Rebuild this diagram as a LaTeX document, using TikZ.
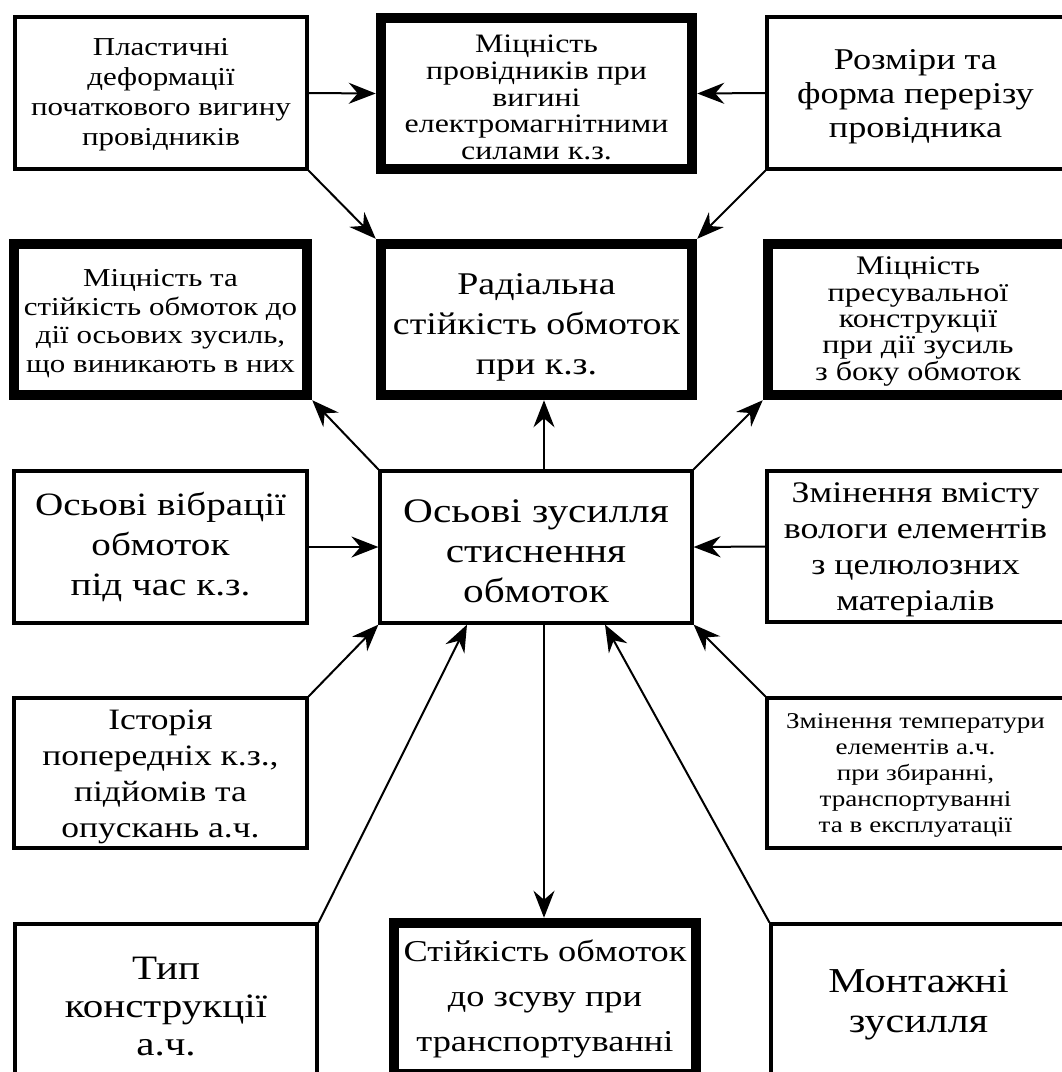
\documentclass[tikz,border=0pt]{standalone}
\usepackage{fontspec}
\setmainfont{Liberation Serif}[FakeStretch=1.2]
\usetikzlibrary{arrows.meta}
\newcommand{\fs}[2]{\fontsize{#1}{#2}\selectfont}
\begin{document}
\begin{tikzpicture}[x=1pt,y=-1pt,
  thinbox/.style={draw, rectangle, line width=3.2pt, inner sep=0pt, fill=white},
  thickbox/.style={draw, rectangle, line width=10.5pt, inner sep=0pt, fill=white},
  txt/.style={inner sep=0pt, align=center},
  arr/.style={line width=2pt, -{Stealth[length=27pt,width=21pt,inset=9pt]}}]
\useasboundingbox (0,0) rectangle (1062,1072);
\clip (0,0) rectangle (1062,1072);
\fill[white] (0,0) rectangle (1062,1072);

% boxes
\node[thinbox,  minimum width=292pt, minimum height=152pt] (A) at (161,93) {};
\node[thickbox, minimum width=311pt, minimum height=151pt] (B) at (536.5,93.5) {};
\node[thinbox,  minimum width=297pt, minimum height=152pt] (C) at (915.5,93) {};
\node[thickbox, minimum width=293pt, minimum height=151pt] (D) at (160.5,319.5) {};
\node[thickbox, minimum width=311pt, minimum height=151pt] (E) at (536.5,319.5) {};
\node[thickbox, minimum width=300pt, minimum height=151pt] (F) at (918,319.5) {};
\node[thinbox,  minimum width=293pt, minimum height=152pt] (G) at (160.5,547) {};
\node[thinbox,  minimum width=312pt, minimum height=152pt] (H) at (536,547) {};
\node[thinbox,  minimum width=297pt, minimum height=151pt] (I) at (915.5,546.5) {};
\node[thinbox,  minimum width=293pt, minimum height=150pt] (J) at (160.5,773) {};
\node[thinbox,  minimum width=297pt, minimum height=150pt] (K) at (915.5,773) {};
\node[thinbox,  minimum width=302pt, minimum height=166pt] (L) at (166,1007) {};
\node[thickbox, minimum width=302pt, minimum height=151pt] (M) at (545,998.5) {};
\node[thinbox,  minimum width=295pt, minimum height=152pt] (N) at (918.5,1000) {};

% texts
\node[txt, font={\fs{25.8}{30}}] (At) at (161,95)
  {Пластичні\\деформації\\початкового вигину\\провідників};
\node[txt, font={\fs{26.6}{26.8}}] (Bt) at (536.5,97.5)
  {Міцність\\провідників при\\вигині\\електромагнітними\\силами к.з.};
\node[txt, font={\fs{30.2}{34}}] (Ct) at (915.5,97)
  {Розміри та\\форма перерізу\\провідника};
\node[txt, font={\fs{25.8}{28.5}}] (Dt) at (160.5,323.5)
  {Міцність та\\стійкість обмоток до\\дії осьових зусиль,\\що виникають в них};
\node[txt, font={\fs{31.6}{40}}] (Et) at (536.5,327)
  {Радіальна\\стійкість обмоток\\при к.з.};
\node[txt, font={\fs{26.8}{26.3}}] (Ft) at (918,321.5)
  {Міцність\\пресувальної\\конструкції\\при дії зусиль\\з боку обмоток};
\node[txt, font={\fs{32.6}{40}}] (Gt) at (160.5,547)
  {Осьові вібрації\\обмоток\\під час к.з.};
\node[txt, font={\fs{34.4}{40}}] (Ht) at (536,551)
  {Осьові зусилля\\стиснення\\обмоток};
\node[txt, font={\fs{29.9}{36}}] (It) at (915.5,549.5)
  {Змінення вмісту\\вологи елементів\\з целюлозних\\матеріалів};
\node[txt, font={\fs{29.6}{36}}] (Jt) at (160.5,777)
  {Історія\\попередніх к.з.,\\підйомів та\\опускань а.ч.};
\node[txt, font={\fs{22.6}{26}}] (Kt) at (915.5,775)
  {Змінення температури\\елементів а.ч.\\при збиранні,\\транспортуванні\\та в експлуатації};
\node[txt, font={\fs{34.2}{38}}] (Lt) at (166,1007)
  {Тип\\конструкції\\а.ч.};
\node[txt, font={\fs{30.3}{45}}] (Mt) at (545,998.5)
  {Стійкість обмоток\\до зсуву при\\транспортуванні};
\node[txt, font={\fs{35}{40}}] (Nt) at (918.5,1005)
  {Монтажні\\зусилля};

\coordinate (v) at (544,0);
\coordinate (lb) at (467,0);
\coordinate (rb) at (605,0);

\draw[arr] (A.east) -- (B.west);
\draw[arr] (C.west) -- (B.east);
\draw[arr] (A.south east) -- (E.north west);
\draw[arr] (C.south west) -- (E.north east);
\draw[arr] (H.north west) -- (D.south east);
\draw[arr] (H.north -| v) -- (E.south -| v);
\draw[arr] (H.north east) -- (F.south west);
\draw[arr] (G.east) -- (H.west);
\draw[arr] (I.west) -- (H.east);
\draw[arr] (J.north east) -- (H.south west);
\draw[arr] (K.north west) -- (H.south east);
\draw[arr] (L.north east) -- (H.south -| lb);
\draw[arr] (N.north west) -- (H.south -| rb);
\draw[arr] (H.south -| v) -- (M.north -| v);
\end{tikzpicture}
\end{document}
